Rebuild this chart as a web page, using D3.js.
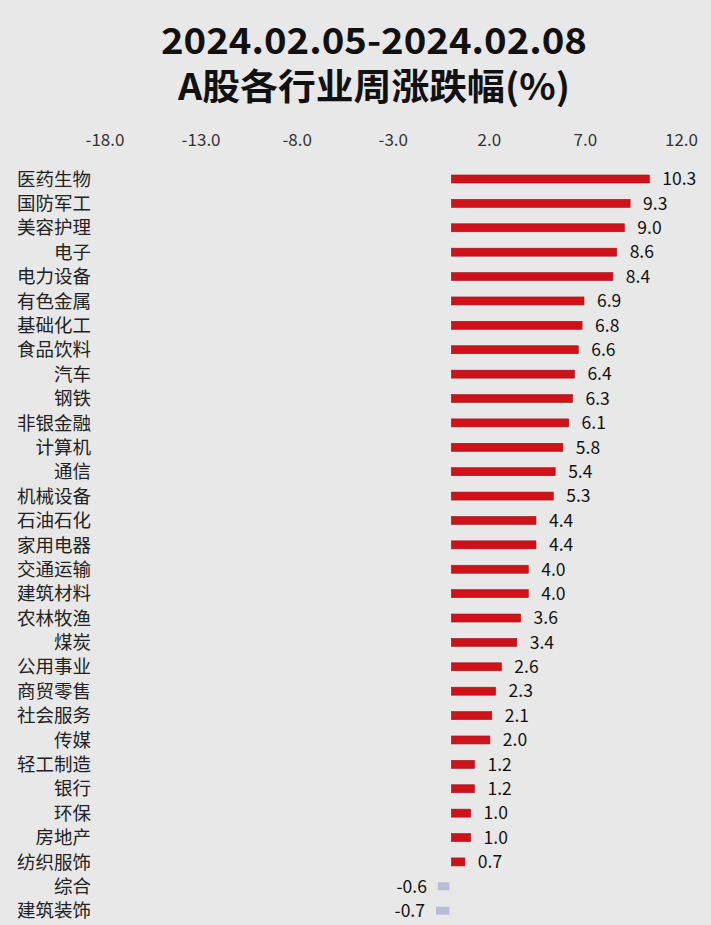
<!DOCTYPE html>
<html><head><meta charset="utf-8">
<script src="https://cdn.jsdelivr.net/npm/d3@7"></script>
<style>
html,body{margin:0;padding:0;background:#e8e8e8;}
svg{display:block;font-family:"Noto Sans CJK SC","Microsoft YaHei",sans-serif;}
</style></head>
<body>
<script>
const titleLines = ["2024.02.05-2024.02.08", "A股各行业周涨跌幅(%)"];
const categories = ["医药生物","国防军工","美容护理","电子","电力设备","有色金属","基础化工","食品饮料","汽车","钢铁","非银金融","计算机","通信","机械设备","石油石化","家用电器","交通运输","建筑材料","农林牧渔","煤炭","公用事业","商贸零售","社会服务","传媒","轻工制造","银行","环保","房地产","纺织服饰","综合","建筑装饰"];
const values = [10.3,9.3,9.0,8.6,8.4,6.9,6.8,6.6,6.4,6.3,6.1,5.8,5.4,5.3,4.4,4.4,4.0,4.0,3.6,3.4,2.6,2.3,2.1,2.0,1.2,1.2,1.0,1.0,0.7,-0.6,-0.7];
const tickValues = [-18,-13,-8,-3,2,7,12];

const W = 711, H = 925;
const fmt = v => d3.format(".1f")(v).replace("\u2212","-");
const svg = d3.select("body").append("svg").attr("width", W).attr("height", H);
svg.append("rect").attr("width", W).attr("height", H).attr("fill", "#e8e8e8");

// title
const tw = [426, 392];
svg.selectAll("text.title").data(titleLines).join("text")
  .attr("class","title")
  .attr("x", 374).attr("y", (d,i)=> i===0 ? 54 : 100)
  .attr("text-anchor","middle")
  .attr("font-size", 36).attr("font-weight","bold").attr("fill","#111")
  .attr("textLength",(d,i)=>tw[i]).attr("lengthAdjust","spacingAndGlyphs")
  .text(d=>d);

const x = d3.scaleLinear().domain([-18,12]).range([104.5, 681]);
const y = d3.scalePoint().domain(categories).range([179, 910.7]);

// top axis
const axis = d3.axisTop(x).tickValues(tickValues).tickFormat(fmt).tickSize(0);
const ag = svg.append("g").attr("transform","translate(0,149)").call(axis);
ag.select(".domain").remove();
ag.selectAll("text").attr("font-size",17).attr("fill","#333")
  .attr("font-family",'"Noto Sans CJK SC",sans-serif');

const data = categories.map((c,i)=>({c, v: values[i]}));
const bh = 8;

// category labels
svg.selectAll("text.cat").data(data).join("text")
  .attr("class","cat")
  .attr("x", 91).attr("y", d=>y(d.c))
  .attr("dy","0.36em")
  .attr("text-anchor","end").attr("font-size",18.5).attr("fill","#222")
  .text(d=>d.c);

// bars
svg.selectAll("rect.bar").data(data).join("rect")
  .attr("class","bar")
  .attr("x", d=> d.v >= 0 ? x(0) + 1 : x(d.v) - 1)
  .attr("y", d=> y(d.c) - bh/2)
  .attr("width", d=> Math.abs(x(d.v) - x(0)))
  .attr("height", bh)
  .attr("fill", d=> d.v >= 0 ? "#cf1119" : "#b9bcd6")
  .attr("stroke", d=> d.v >= 0 ? "#9c1822" : "none")
  .attr("stroke-width", 0.6);

// value labels
svg.selectAll("text.val").data(data).join("text")
  .attr("class","val")
  .attr("x", d=> d.v >= 0 ? x(d.v) + 14 : x(d.v) - 12)
  .attr("y", d=> y(d.c))
  .attr("dy","0.36em")
  .attr("text-anchor", d=> d.v >= 0 ? "start" : "end")
  .attr("font-size",17.5).attr("fill","#111")
  .text(d=> fmt(d.v));
</script>
</body></html>
